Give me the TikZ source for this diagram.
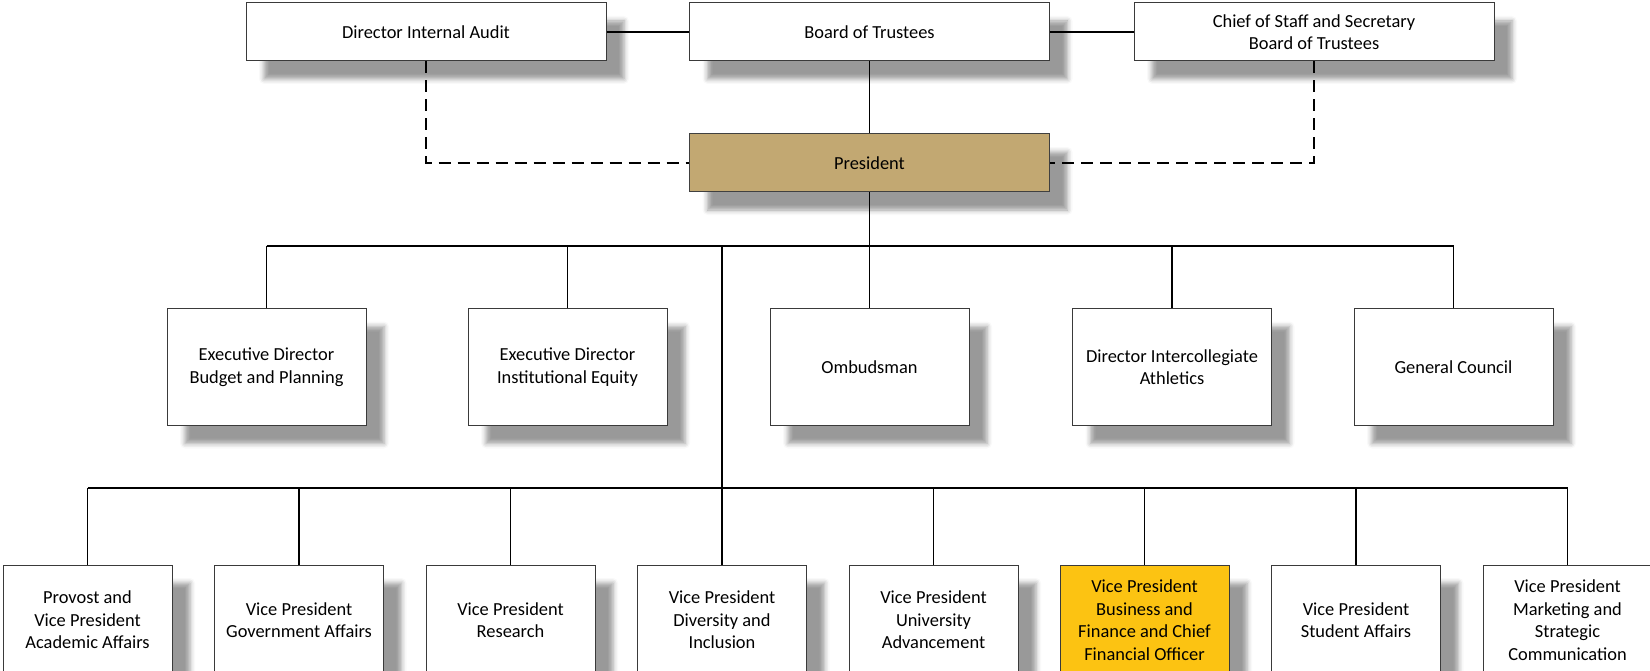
\documentclass[tikz,border=0pt]{standalone}
\usepackage{fontspec}
\setmainfont{Carlito}
\usetikzlibrary{shadows.blur}
\definecolor{prestan}{HTML}{C2A872}
\definecolor{gold}{HTML}{FCC312}
\definecolor{boxline}{HTML}{3A3A3A}
\begin{document}
\begin{tikzpicture}[x=1pt,y=-1pt,
  box/.style={draw=boxline, line width=1pt, fill=white, align=center, inner sep=0pt,
    font=\fontsize{18.4}{22.5}\selectfont,
    blur shadow={shadow xshift=18pt, shadow yshift=-18pt, shadow blur radius=5pt, shadow opacity=40}},
  topbox/.style={box, minimum width=360pt, minimum height=58pt},
  midbox/.style={box, minimum width=199pt, minimum height=117pt},
  botbox/.style={box, minimum width=169pt, minimum height=110pt},
  link/.style={draw=black, line width=1.4pt},
  dotlink/.style={draw=black, line width=1.4pt, dash pattern=on 12pt off 7pt}]
\useasboundingbox (0,0) rectangle (1650,671);
% top row
\node[topbox] (audit) at (426,32) {Director Internal Audit};
\node[topbox] (board) at (869.5,32) {Board of Trustees};
\node[topbox] (chief) at (1314,32) {Chief of Staff and Secretary\\Board of Trustees};
\node[topbox, fill=prestan, draw=black!75] (pres) at (869.5,163) {President};
% middle row
\node[midbox] (budget) at (266.5,367) {Executive Director\\Budget and Planning};
\node[midbox] (equity) at (567.5,367) {Executive Director\\Institutional Equity};
\node[midbox] (ombud) at (869.5,367) {Ombudsman};
\node[midbox] (athl) at (1172,367) {Director Intercollegiate\\Athletics};
\node[midbox] (council) at (1453.5,367) {General Council};
% bottom row
\node[botbox] (provost) at (87.5,620) {Provost and\\Vice President\\Academic Affairs};
\node[botbox] (gov) at (299,620) {Vice President\\Government Affairs};
\node[botbox] (research) at (510.5,620) {Vice President\\Research};
\node[botbox] (divers) at (722,620) {Vice President\\Diversity and\\Inclusion};
\node[botbox] (advance) at (933.5,620) {Vice President\\University\\Advancement};
\node[botbox, fill=gold] (finance) at (1144.5,620) {Vice President\\Business and\\Finance and Chief\\Financial Officer};
\node[botbox] (student) at (1356,620) {Vice President\\Student Affairs};
\node[botbox] (market) at (1567.5,620) {Vice President\\Marketing and\\Strategic\\Communication};
% bus coordinates
\coordinate (busA) at (869.5,246);
\coordinate (busAL) at (266.5,246);
\coordinate (busAR) at (1453.5,246);
\coordinate (trunk) at (722,246);
\coordinate (busBL) at (87.5,488);
\coordinate (busBR) at (1567.5,488);
\coordinate (auditc) at (426,163);
\coordinate (chiefc) at (1314,163);
% connectors top
\draw[link] (audit.east) -- (board.west);
\draw[link] (board.east) -- (chief.west);
\draw[link] (board.south) -- (pres.north);
\draw[dotlink] (audit.south) -- (auditc) -- (pres.west);
\draw[dotlink] (chief.south) -- (chiefc) -- (pres.east);
% middle bus
\draw[link] (pres.south) -- (busA);
\draw[link] (busAL) -- (busAR);
\foreach \n in {budget,equity,ombud,athl,council}
  \draw[link] (\n.north |- busA) -- (\n.north);
% trunk and bottom bus
\draw[link] (trunk) -- (divers.north);
\draw[link] (busBL) -- (busBR);
\foreach \n in {provost,gov,research,advance,finance,student,market}
  \draw[link] (\n.north |- busBL) -- (\n.north);
\end{tikzpicture}
\end{document}
